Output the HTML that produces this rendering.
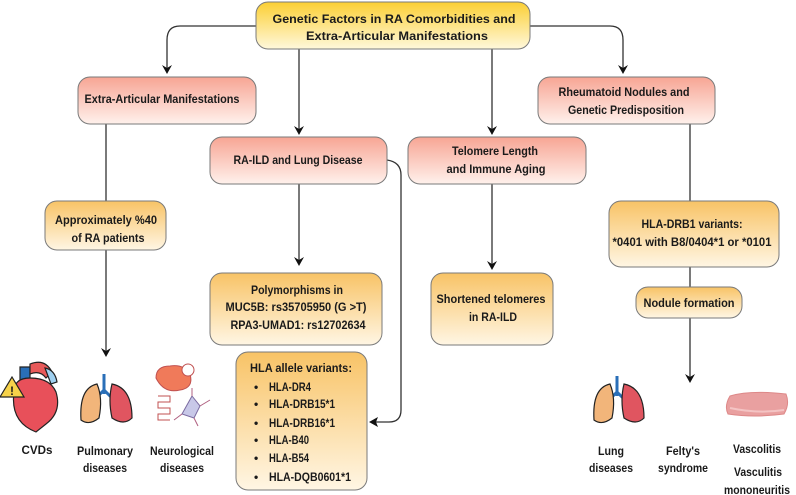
<!DOCTYPE html>
<html><head><meta charset="utf-8"><style>
html,body{margin:0;padding:0;background:#fff;}
svg{display:block;}
text{font-family:"Liberation Sans",sans-serif;font-weight:bold;font-size:12px;fill:#1a1a1a;}
</style></head><body>
<svg width="796" height="495" viewBox="0 0 796 495" xmlns="http://www.w3.org/2000/svg">
<defs>
<linearGradient id="gold" x1="0" y1="0" x2="0" y2="1"><stop offset="0" stop-color="#fbcf33"/><stop offset="1" stop-color="#fff8dc"/></linearGradient>
<linearGradient id="pink" x1="0" y1="0" x2="0" y2="1"><stop offset="0" stop-color="#f7a594"/><stop offset="1" stop-color="#fff1ec"/></linearGradient>
<linearGradient id="org" x1="0" y1="0" x2="0" y2="1"><stop offset="0" stop-color="#f8c366"/><stop offset="1" stop-color="#fff6e4"/></linearGradient>
</defs>
<g stroke="#333" stroke-width="1.3" fill="none">
<path d="M256,26 H180 Q167,26 167,40 V70"/>
<path d="M530,26 H610 Q623,26 623,40 V70"/>
<path d="M299,49 V131"/>
<path d="M492,49 V131"/>
<path d="M106,124 V201"/>
<path d="M106,250 V353"/>
<path d="M299,184 V262"/>
<path d="M492,184 V266"/>
<path d="M690,124 V201"/>
<path d="M690,267 V287"/>
<path d="M690,318 V379"/>
<path d="M387,160 Q401,162 401,175 V410 Q401,422 389,422 H374"/>
</g>
<g fill="#111">
<path d="M162,65 L167,74 L172,65 L167,68 Z"/>
<path d="M618,65 L623,74 L628,65 L623,68 Z"/>
<path d="M294,126 L299,135 L304,126 L299,129 Z"/>
<path d="M487,126 L492,135 L497,126 L492,129 Z"/>
<path d="M101,348 L106,357 L111,348 L106,351 Z"/>
<path d="M294,257 L299,266 L304,257 L299,260 Z"/>
<path d="M487,261 L492,270 L497,261 L492,264 Z"/>
<path d="M685,374 L690,383 L695,374 L690,377 Z"/>
<path d="M369,422 L378,417 L376,422 L378,427 Z"/>
</g>
<g stroke="#7a7a7a" stroke-width="1">
<rect x="256" y="2" width="274" height="47" rx="12" fill="url(#gold)"/>
<rect x="78" y="77" width="178" height="47" rx="12" fill="url(#pink)"/>
<rect x="538" y="77" width="177" height="47" rx="12" fill="url(#pink)"/>
<rect x="210" y="137" width="177" height="47" rx="12" fill="url(#pink)"/>
<rect x="408" y="137" width="178" height="47" rx="12" fill="url(#pink)"/>
<rect x="45" y="201" width="121" height="49" rx="12" fill="url(#org)"/>
<rect x="609" y="201" width="170" height="66" rx="12" fill="url(#org)"/>
<rect x="210" y="273" width="172" height="72" rx="12" fill="url(#org)"/>
<rect x="431" y="273" width="122" height="72" rx="12" fill="url(#org)"/>
<rect x="236" y="352" width="131" height="138" rx="12" fill="url(#org)"/>
<rect x="636" y="287" width="106" height="31" rx="12" fill="url(#org)"/>
</g>
<g text-anchor="middle">
<text x="394" y="23" font-size="13" textLength="243" lengthAdjust="spacingAndGlyphs">Genetic Factors in RA Comorbidities and</text>
<text x="397" y="40" font-size="13" textLength="182" lengthAdjust="spacingAndGlyphs">Extra-Articular Manifestations</text>
<text x="162" y="103" textLength="155" lengthAdjust="spacingAndGlyphs">Extra-Articular Manifestations</text>
<text x="298" y="164" textLength="129" lengthAdjust="spacingAndGlyphs">RA-ILD and Lung Disease</text>
<text x="495" y="155" textLength="86" lengthAdjust="spacingAndGlyphs">Telomere Length</text>
<text x="496" y="173" textLength="99" lengthAdjust="spacingAndGlyphs">and Immune Aging</text>
<text x="624" y="96" textLength="131" lengthAdjust="spacingAndGlyphs">Rheumatoid Nodules and</text>
<text x="626" y="114" textLength="116" lengthAdjust="spacingAndGlyphs">Genetic Predisposition</text>
<text x="106" y="224" textLength="102" lengthAdjust="spacingAndGlyphs">Approximately %40</text>
<text x="108" y="242" textLength="73" lengthAdjust="spacingAndGlyphs">of RA patients</text>
<text x="297" y="294" textLength="92" lengthAdjust="spacingAndGlyphs">Polymorphisms in</text>
<text x="296" y="311" textLength="141" lengthAdjust="spacingAndGlyphs">MUC5B: rs35705950 (G &gt;T)</text>
<text x="298" y="329" textLength="135" lengthAdjust="spacingAndGlyphs">RPA3-UMAD1: rs12702634</text>
<text x="301" y="372" textLength="102" lengthAdjust="spacingAndGlyphs">HLA allele variants:</text>
<text x="491" y="303" textLength="109" lengthAdjust="spacingAndGlyphs">Shortened telomeres</text>
<text x="493" y="321" textLength="48" lengthAdjust="spacingAndGlyphs">in RA-ILD</text>
<text x="692" y="228" textLength="101" lengthAdjust="spacingAndGlyphs">HLA-DRB1 variants:</text>
<text x="692" y="246" textLength="159" lengthAdjust="spacingAndGlyphs">*0401 with B8/0404*1 or *0101</text>
<text x="689" y="307" textLength="91" lengthAdjust="spacingAndGlyphs">Nodule formation</text>
<text x="37" y="454" textLength="31" lengthAdjust="spacingAndGlyphs">CVDs</text>
<text x="105" y="455" textLength="56" lengthAdjust="spacingAndGlyphs">Pulmonary</text>
<text x="105" y="472" textLength="44" lengthAdjust="spacingAndGlyphs">diseases</text>
<text x="182" y="455" textLength="64" lengthAdjust="spacingAndGlyphs">Neurological</text>
<text x="182" y="472" textLength="44" lengthAdjust="spacingAndGlyphs">diseases</text>
<text x="611" y="455" textLength="26" lengthAdjust="spacingAndGlyphs">Lung</text>
<text x="611" y="472" textLength="44" lengthAdjust="spacingAndGlyphs">diseases</text>
<text x="683" y="455" textLength="34" lengthAdjust="spacingAndGlyphs">Felty's</text>
<text x="683" y="472" textLength="50" lengthAdjust="spacingAndGlyphs">syndrome</text>
<text x="757" y="453" textLength="48" lengthAdjust="spacingAndGlyphs">Vascolitis</text>
<text x="758" y="476" textLength="48" lengthAdjust="spacingAndGlyphs">Vasculitis</text>
<text x="757" y="494" textLength="66" lengthAdjust="spacingAndGlyphs">mononeuritis</text>
</g>
<g>
<text x="254" y="391">•</text><text x="269" y="391" textLength="42" lengthAdjust="spacingAndGlyphs">HLA-DR4</text>
<text x="254" y="408">•</text><text x="269" y="408" textLength="66" lengthAdjust="spacingAndGlyphs">HLA-DRB15*1</text>
<text x="254" y="427">•</text><text x="269" y="427" textLength="66" lengthAdjust="spacingAndGlyphs">HLA-DRB16*1</text>
<text x="254" y="444">•</text><text x="269" y="444" textLength="40" lengthAdjust="spacingAndGlyphs">HLA-B40</text>
<text x="254" y="462">•</text><text x="269" y="462" textLength="40" lengthAdjust="spacingAndGlyphs">HLA-B54</text>
<text x="254" y="481">•</text><text x="269" y="481" textLength="82" lengthAdjust="spacingAndGlyphs">HLA-DQB0601*1</text>
</g>
<!-- heart icon -->
<g stroke="#222" stroke-width="1.2">
<path d="M20,367 h10 v40 h-10z" fill="#2a6fb8"/>
<path d="M30,364 q15,-6 22,8 l-6,6 q-6,-8 -16,-4z" fill="#e85a5a"/>
<path d="M45,368 q10,2 12,14 l-6,2z" fill="#9fd0f0"/>
<path d="M14,392 q0,-14 16,-14 q20,0 26,14 q6,20 -10,32 l-10,8 q-26,-10 -22,-40z" fill="#e8505a"/>
<path d="M0,397 l12,-20 l12,20z" fill="#f6d24a"/>
</g>
<text x="10" y="395" font-size="10">!</text>
<!-- lungs icon -->
<g stroke="#222" stroke-width="1.2">
<path d="M104,374 v20 M104,390 l-8,8 M104,390 l8,8" stroke="#2a6fb8" stroke-width="3" fill="none"/>
<path d="M97,384 q-18,4 -16,36 q8,6 18,-2 q4,-20 -2,-34z" fill="#f2b57a"/>
<path d="M112,384 q20,4 20,34 q-8,8 -20,0 q-4,-18 0,-34z" fill="#e05560"/>
</g>
<g stroke="#222" stroke-width="1.2">
<path d="M617,376 v20 M617,392 l-7,7 M617,392 l7,7" stroke="#2a6fb8" stroke-width="3" fill="none"/>
<path d="M610,384 q-18,4 -16,36 q8,6 18,-2 q4,-20 -2,-34z" fill="#f2b57a"/>
<path d="M624,384 q20,4 20,34 q-8,8 -20,0 q-4,-18 0,-34z" fill="#e05560"/>
</g>
<!-- neuro icon -->
<g stroke="#c05050" stroke-width="1">
<path d="M156,378 q0,-12 14,-12 q14,-2 20,8 q4,14 -10,16 q-16,4 -24,-12z" fill="#f07a5a"/>
<circle cx="188" cy="370" r="6" fill="#fff"/>
<path d="M158,396 h12 v6 h-12 v6 h12 v6 h-12 v6 h12" fill="none"/>
<path d="M192,396 l8,10 l-6,12 l-12,-4 z" fill="#c8c8e8" stroke="#7a6aa0"/>
<path d="M200,406 l10,-6 M194,418 l4,8 M182,414 l-8,6 M192,396 l0,-8" stroke="#b06080" fill="none"/>
</g>
<!-- vessel tissue -->
<path d="M730,396 q20,-6 56,-2 q4,10 -2,20 q-30,4 -56,0 q-4,-8 2,-18z" fill="#e9a0a0" stroke="#d88" stroke-width="1"/>
<path d="M730,408 q28,6 54,2" stroke="#f4c4c4" fill="none" stroke-width="2"/>
</svg>
</body></html>
